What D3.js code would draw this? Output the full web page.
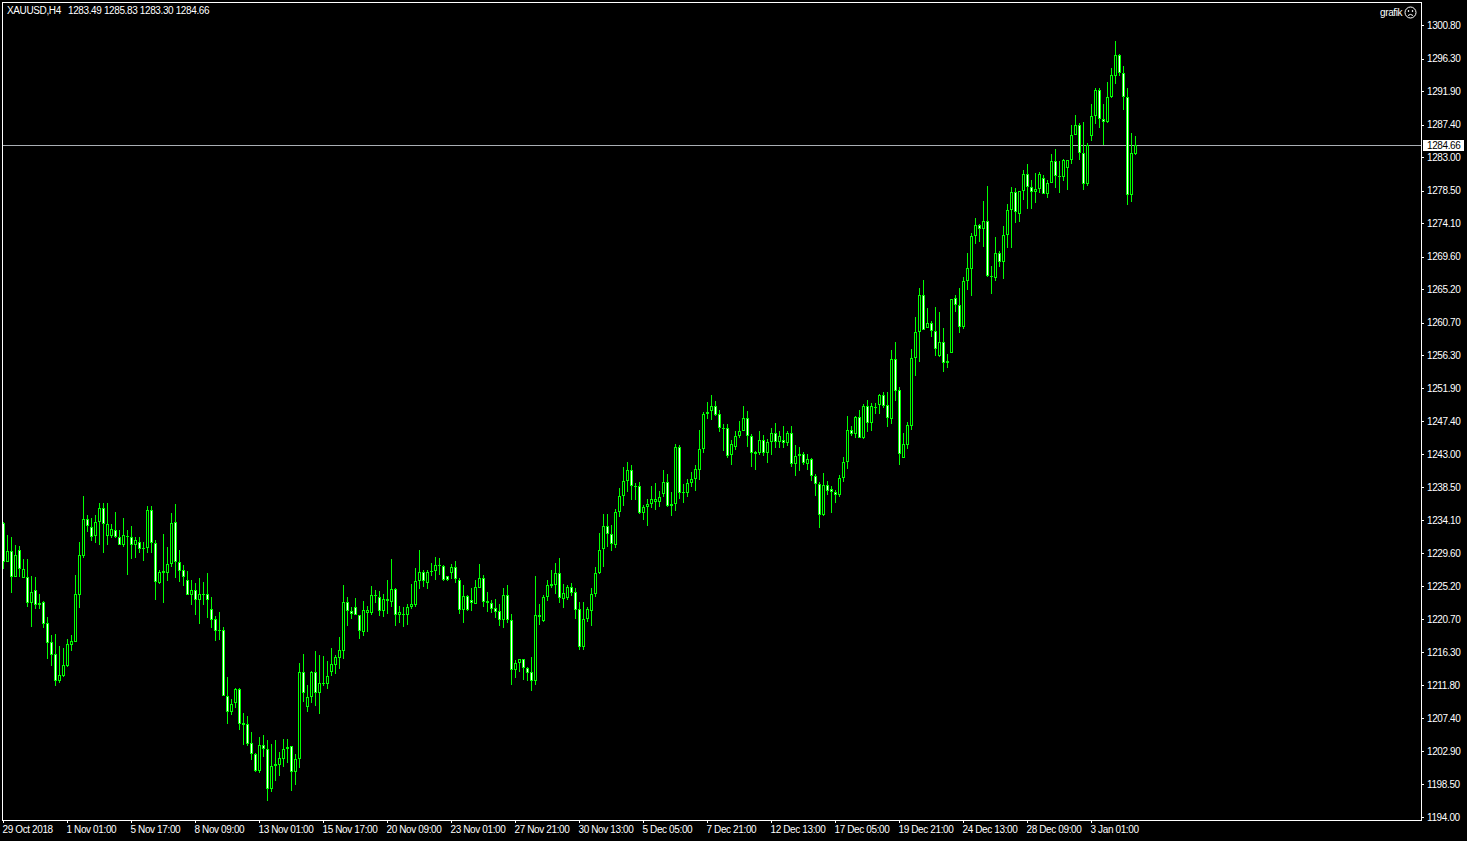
<!DOCTYPE html>
<html>
<head>
<meta charset="utf-8">
<title>XAUUSD,H4</title>
<script src="https://cdn.jsdelivr.net/npm/d3@7"></script>
<style>
  html, body { margin: 0; padding: 0; background: #000; overflow: hidden; }
  svg { display: block; }
  text { font-family: "Liberation Sans", Arial, sans-serif; font-size: 10px; fill: #fff; letter-spacing: -0.38px; }
  .axis .domain { display: none; }
  .axis line { stroke: #fff; shape-rendering: crispEdges; }
  .axis text { fill: #fff; font-size: 10px; }
</style>
</head>
<body>
<svg id="chart" width="1467" height="841"></svg>
<script>
var highs = [
  1233.80,1232.10,1231.87,1230.75,1230.61,1228.85,1228.85,1226.56,1226.38,1224.13,
  1223.18,1221.02,1218.60,1218.73,1217.11,1216.84,1218.06,1218.60,1226.70,1231.15,
  1237.36,1234.80,1234.39,1234.80,1236.37,1236.37,1236.37,1233.53,1235.15,1232.72,
  1234.39,1232.72,1233.31,1231.78,1231.78,1231.10,1236.01,1236.01,1231.42,1227.32,
  1232.18,1230.47,1235.02,1236.28,1230.07,1228.00,1227.24,1226.02,1225.57,1226.29,
  1225.70,1226.92,1223.68,1221.16,1221.70,1219.67,1212.93,1209.95,1211.40,1211.40,
  1208.07,1207.62,1205.55,1202.71,1204.87,1205.10,1204.42,1203.88,1204.42,1202.85,
  1204.51,1204.51,1203.56,1202.53,1214.81,1216.03,1211.84,1213.69,1216.39,1215.90,
  1215.76,1215.08,1216.84,1215.90,1218.28,1225.35,1223.73,1222.42,1223.59,1221.25,
  1223.19,1222.51,1225.21,1224.67,1224.53,1224.13,1226.02,1228.85,1224.94,1222.51,
  1222.38,1222.73,1225.48,1227.64,1230.10,1227.37,1227.37,1228.32,1229.13,1228.99,
  1228.05,1226.52,1228.18,1228.59,1226.29,1225.35,1223.95,1224.90,1226.02,1228.14,
  1226.65,1224.40,1223.28,1223.41,1222.83,1224.90,1225.35,1221.43,1215.22,1215.31,
  1215.31,1214.32,1215.63,1226.56,1222.78,1223.95,1226.02,1227.37,1228.32,1228.99,
  1225.44,1225.30,1225.57,1224.90,1223.00,1223.00,1222.33,1224.90,1227.78,1232.32,
  1234.93,1234.93,1233.40,1235.56,1238.39,1241.23,1241.95,1241.55,1239.07,1239.25,
  1236.10,1236.91,1238.66,1239.12,1237.99,1240.87,1240.33,1237.81,1244.33,1244.15,
  1238.97,1239.65,1240.55,1241.54,1246.26,1248.70,1250.04,1250.99,1250.18,1248.97,
  1247.07,1247.07,1244.92,1246.13,1247.48,1249.50,1248.83,1245.73,1243.34,1246.13,
  1245.59,1245.00,1246.53,1247.21,1246.13,1246.80,1246.13,1246.80,1244.19,1243.93,
  1243.25,1242.98,1242.44,1240.28,1239.25,1240.46,1239.38,1238.66,1238.17,1240.19,
  1242.58,1248.16,1246.76,1248.16,1248.97,1249.73,1250.32,1249.91,1249.91,1251.08,
  1251.40,1251.40,1257.05,1258.13,1252.06,1245.85,1247.28,1257.19,1261.51,1265.42,
  1266.50,1262.72,1260.97,1262.86,1262.18,1260.02,1256.51,1263.89,1264.48,1265.42,
  1266.91,1270.14,1272.80,1274.87,1274.06,1277.16,1279.19,1268.39,1272.31,1270.42,
  1273.79,1276.76,1279.01,1278.92,1278.47,1281.35,1282.12,1280.00,1280.90,1281.04,
  1280.63,1280.00,1283.51,1284.19,1282.57,1282.79,1282.66,1287.43,1288.78,1287.70,
  1287.83,1284.99,1290.26,1292.38,1292.38,1290.26,1293.10,1295.12,1298.63,1297.01,
  1295.39,1292.29,1286.34,1285.83
];

var lows = [
  1227.50,1228.49,1224.31,1226.47,1226.47,1226.34,1222.42,1219.72,1222.15,1222.15,
  1219.58,1215.40,1214.46,1211.76,1212.16,1212.97,1214.32,1216.48,1217.70,1222.29,
  1229.03,1232.50,1231.20,1231.06,1230.75,1229.71,1230.75,1231.65,1231.73,1230.75,
  1230.52,1226.74,1228.81,1228.95,1229.71,1228.63,1229.62,1229.71,1223.32,1225.48,
  1222.96,1225.93,1227.69,1226.34,1225.75,1225.25,1224.00,1222.65,1221.30,1220.13,
  1222.65,1220.85,1219.54,1217.83,1217.92,1210.41,1206.63,1207.80,1208.79,1205.82,
  1203.79,1203.66,1201.77,1200.15,1200.01,1202.17,1196.23,1197.45,1198.93,1199.60,
  1200.82,1201.36,1197.58,1198.39,1200.68,1209.60,1208.25,1209.46,1209.01,1207.98,
  1211.75,1211.35,1213.11,1213.29,1214.01,1215.40,1219.86,1220.80,1221.25,1218.01,
  1218.50,1219.05,1221.34,1222.87,1221.16,1221.07,1221.47,1222.42,1219.86,1220.26,
  1219.72,1219.99,1222.15,1222.42,1224.80,1225.03,1224.85,1226.52,1225.98,1226.65,
  1225.88,1225.88,1226.11,1225.66,1221.48,1220.26,1221.79,1221.88,1222.82,1224.99,
  1222.42,1221.70,1221.61,1220.94,1219.85,1219.58,1220.26,1211.89,1212.84,1213.64,
  1212.57,1212.43,1211.08,1211.89,1219.99,1220.40,1223.23,1224.99,1224.17,1222.96,
  1222.28,1223.36,1223.90,1220.80,1216.62,1216.62,1220.31,1219.85,1223.77,1226.88,
  1227.82,1230.52,1229.85,1230.34,1234.52,1236.00,1237.81,1236.73,1236.73,1234.93,
  1234.03,1233.22,1235.70,1235.47,1235.88,1237.17,1235.87,1234.70,1235.33,1236.95,
  1236.41,1237.13,1238.57,1237.94,1239.51,1243.16,1247.75,1247.61,1248.11,1246.00,
  1243.43,1242.48,1241.54,1243.57,1245.14,1246.04,1243.97,1241.27,1240.87,1242.80,
  1242.67,1241.81,1242.89,1243.79,1243.84,1243.79,1244.11,1241.27,1240.05,1240.73,
  1241.54,1240.87,1239.38,1237.35,1232.95,1234.66,1237.49,1235.06,1236.41,1237.22,
  1239.25,1241.00,1245.41,1245.10,1245.10,1245.00,1245.90,1246.13,1248.43,1248.43,
  1249.19,1246.67,1247.06,1250.21,1241.53,1242.52,1243.73,1246.25,1253.58,1255.34,
  1259.66,1259.93,1258.71,1256.15,1256.10,1254.00,1254.62,1256.56,1262.09,1259.26,
  1259.80,1265.06,1264.25,1271.27,1271.63,1270.95,1266.82,1264.61,1266.28,1268.16,
  1266.64,1270.73,1270.73,1274.11,1274.24,1277.21,1275.99,1275.99,1276.80,1278.16,
  1278.00,1277.48,1279.50,1278.83,1278.16,1279.87,1278.65,1282.07,1286.03,1282.61,
  1278.65,1279.10,1285.18,1287.56,1287.02,1284.68,1287.61,1290.98,1292.83,1293.95,
  1289.45,1276.63,1277.03,1283.30
];

var opens = [
  1233.67,1228.49,1229.89,1226.47,1230.02,1226.34,1226.38,1222.87,1224.63,1222.87,
  1223.00,1220.17,1217.60,1215.98,1212.43,1213.10,1214.45,1217.29,1217.70,1224.04,
  1229.30,1234.21,1233.13,1232.00,1233.80,1235.70,1232.00,1232.00,1232.72,1231.78,
  1230.79,1231.96,1231.78,1230.79,1231.10,1230.29,1230.38,1235.42,1230.97,1225.66,
  1226.92,1226.92,1228.14,1233.80,1228.41,1227.33,1225.98,1224.04,1224.63,1223.36,
  1224.09,1224.09,1222.06,1220.71,1219.22,1219.22,1210.40,1208.25,1209.46,1211.26,
  1206.67,1206.54,1203.97,1202.58,1200.28,1203.70,1203.16,1197.85,1200.95,1201.09,
  1201.90,1203.16,1203.56,1200.15,1201.81,1213.55,1208.83,1210.18,1213.55,1210.81,
  1212.03,1212.03,1213.64,1214.59,1215.54,1216.48,1223.00,1221.79,1222.33,1221.25,
  1219.05,1221.61,1221.61,1223.95,1223.68,1221.88,1223.14,1223.09,1224.76,1221.25,
  1221.39,1221.25,1222.33,1222.69,1225.84,1227.06,1225.57,1227.19,1227.19,1228.05,
  1227.87,1226.52,1226.92,1227.73,1225.97,1222.02,1223.82,1223.28,1222.82,1224.99,
  1226.25,1223.14,1222.87,1222.28,1221.79,1220.67,1223.95,1220.58,1213.92,1214.86,
  1215.31,1214.10,1213.55,1212.43,1221.25,1220.53,1223.68,1225.26,1225.39,1226.92,
  1223.50,1223.64,1225.03,1224.35,1222.06,1217.02,1220.71,1221.88,1224.09,1226.92,
  1230.12,1233.27,1232.18,1230.66,1235.16,1237.31,1239.30,1240.82,1238.66,1238.66,
  1235.02,1235.83,1236.24,1236.51,1236.51,1237.62,1239.20,1236.23,1236.19,1243.93,
  1237.85,1237.67,1239.02,1239.56,1240.87,1243.65,1248.38,1248.74,1249.46,1248.38,
  1246.53,1246.49,1242.80,1243.88,1245.41,1246.09,1247.84,1245.41,1243.21,1243.07,
  1244.87,1243.07,1244.60,1245.82,1244.55,1244.87,1244.42,1245.82,1241.59,1242.71,
  1242.98,1241.59,1242.31,1240.01,1238.93,1234.75,1238.80,1238.25,1237.85,1237.53,
  1239.74,1241.90,1246.22,1245.68,1247.97,1245.19,1249.46,1247.12,1249.33,1249.55,
  1250.95,1249.60,1247.78,1255.79,1251.60,1242.52,1244.27,1246.84,1255.88,1259.39,
  1264.43,1259.93,1260.65,1259.57,1256.28,1258.08,1255.21,1256.56,1264.03,1263.08,
  1260.07,1266.28,1267.90,1272.35,1273.88,1273.34,1274.42,1267.00,1266.68,1270.10,
  1268.84,1272.49,1275.86,1278.34,1275.32,1278.43,1280.77,1279.01,1278.29,1278.70,
  1280.23,1278.02,1279.50,1282.52,1280.50,1280.32,1281.53,1282.61,1286.03,1287.38,
  1283.60,1279.37,1285.85,1288.55,1292.10,1288.19,1287.74,1291.12,1293.95,1296.83,
  1294.40,1291.16,1277.93,1283.49
];

var closes = [
  1228.49,1229.89,1226.47,1229.35,1227.42,1227.46,1222.87,1224.36,1222.69,1222.69,
  1220.13,1217.56,1215.94,1212.43,1213.15,1214.50,1217.34,1217.74,1224.09,1229.35,
  1234.21,1233.22,1231.87,1233.80,1235.70,1233.49,1233.53,1232.86,1231.78,1230.79,
  1232.05,1231.74,1230.79,1231.38,1230.25,1230.25,1235.42,1230.97,1225.70,1227.06,
  1227.15,1228.14,1233.67,1228.41,1227.28,1226.38,1224.04,1224.63,1223.36,1224.09,
  1224.04,1223.36,1220.67,1219.18,1219.18,1210.41,1208.25,1209.24,1211.26,1206.63,
  1206.49,1203.93,1202.58,1200.28,1203.70,1203.16,1197.85,1200.86,1201.13,1201.95,
  1203.16,1203.43,1200.15,1201.81,1213.55,1210.81,1210.18,1213.55,1210.81,1212.07,
  1212.07,1213.02,1214.64,1215.58,1216.53,1223.00,1221.79,1221.39,1221.25,1219.09,
  1221.92,1221.92,1223.95,1223.91,1221.88,1223.41,1223.41,1224.76,1221.25,1221.66,
  1221.25,1222.33,1222.73,1225.84,1227.06,1225.84,1227.06,1227.06,1228.00,1227.87,
  1225.97,1225.97,1227.73,1226.11,1222.02,1223.82,1221.93,1222.87,1225.03,1226.25,
  1223.10,1222.87,1222.15,1221.75,1220.67,1223.95,1220.67,1213.92,1214.77,1215.31,
  1214.18,1213.51,1212.43,1221.25,1220.98,1223.68,1225.30,1225.44,1226.92,1223.55,
  1224.22,1225.03,1224.31,1222.02,1217.02,1220.71,1222.06,1224.09,1226.92,1230.03,
  1233.27,1232.14,1230.92,1235.16,1237.31,1239.34,1240.82,1238.66,1238.62,1235.02,
  1235.83,1236.24,1236.91,1236.91,1237.18,1239.20,1236.00,1236.05,1243.93,1237.67,
  1237.67,1239.07,1239.61,1240.96,1243.65,1248.38,1248.65,1249.46,1248.25,1246.49,
  1246.49,1242.76,1244.33,1245.41,1246.09,1247.84,1245.41,1243.07,1242.98,1244.87,
  1243.07,1244.60,1245.82,1244.60,1245.41,1244.42,1245.82,1241.59,1242.71,1242.98,
  1241.85,1242.31,1239.97,1238.89,1234.75,1238.80,1238.07,1237.85,1237.53,1239.74,
  1241.90,1246.22,1245.68,1247.97,1245.19,1249.46,1247.12,1249.46,1249.28,1250.95,
  1249.51,1247.80,1255.79,1251.56,1243.05,1244.32,1246.88,1255.93,1259.44,1264.43,
  1259.66,1260.65,1259.53,1257.10,1258.08,1255.21,1255.52,1263.89,1263.03,1260.07,
  1266.32,1268.08,1272.40,1273.88,1273.34,1274.42,1266.95,1266.82,1270.10,1268.84,
  1272.53,1275.91,1278.34,1275.59,1278.47,1280.77,1278.97,1278.29,1278.74,1280.77,
  1278.02,1279.55,1282.52,1280.45,1280.32,1282.66,1282.66,1286.03,1287.38,1283.56,
  1279.37,1284.68,1288.60,1292.10,1288.19,1287.74,1291.16,1294.13,1296.83,1294.40,
  1291.12,1277.93,1283.60,1284.66
];

var priceTicks = [
  1300.80,1296.30,1291.90,1287.40,1283.00,1278.50,1274.10,1269.60,1265.20,
  1260.70,1256.30,1251.90,1247.40,1243.00,1238.50,1234.10,1229.60,1225.20,
  1220.70,1216.30,1211.80,1207.40,1202.90,1198.50,1194.00
];

var timeLabels = [
  "29 Oct 2018","1 Nov 01:00","5 Nov 17:00","8 Nov 09:00","13 Nov 01:00","15 Nov 17:00",
  "20 Nov 09:00","23 Nov 01:00","27 Nov 21:00","30 Nov 13:00","5 Dec 05:00","7 Dec 21:00",
  "12 Dec 13:00","17 Dec 05:00","19 Dec 21:00","24 Dec 13:00","28 Dec 09:00","3 Jan 01:00"
];
var barsPerLabel = 16;

var symbolText = "XAUUSD,H4";
var lastQuote = "1283.49 1285.83 1283.30 1284.66";
var bidPrice = 1284.66;

var green = "#00ff00";

var svg = d3.select("#chart");
var frame = {left: 2, top: 2, right: 1421, bottom: 820};

var xScale = d3.scaleLinear().domain([0, opens.length - 1]).range([3, 1135]);
var yScale = d3.scaleLinear().domain([1194, 1300.8]).range([817.3, 25.4]);

function row(price) {
  return Math.round(yScale(price));
}

function renderBidLine() {
  var by = Math.floor(yScale(bidPrice)) + 0.5;
  svg.append("line")
    .attr("x1", frame.left)
    .attr("x2", frame.right)
    .attr("y1", by)
    .attr("y2", by)
    .attr("stroke", "#a9aeb3")
    .attr("shape-rendering", "crispEdges");
}

function renderCandles() {
  var candles = svg.append("g")
    .attr("shape-rendering", "crispEdges")
    .selectAll("g")
    .data(opens)
    .enter()
    .append("g");

  // wick
  candles.append("rect")
    .attr("x", function(d, i) { return xScale(i); })
    .attr("y", function(d, i) { return row(highs[i]); })
    .attr("width", 1)
    .attr("height", function(d, i) { return Math.max(1, row(lows[i]) - row(highs[i])); })
    .attr("fill", green);

  // body outline
  candles.append("rect")
    .attr("x", function(d, i) { return xScale(i) - 1; })
    .attr("y", function(d, i) { return row(Math.max(d, closes[i])); })
    .attr("width", 3)
    .attr("height", function(d, i) { return Math.max(1, row(Math.min(d, closes[i])) - row(Math.max(d, closes[i]))); })
    .attr("fill", green);

  // body fill, black for up bars and white for down bars
  candles.append("rect")
    .attr("x", function(d, i) { return xScale(i); })
    .attr("y", function(d, i) { return row(Math.max(d, closes[i])) + 1; })
    .attr("width", 1)
    .attr("height", function(d, i) { return Math.max(0, row(Math.min(d, closes[i])) - row(Math.max(d, closes[i])) - 2); })
    .attr("fill", function(d, i) { return closes[i] >= d ? "#000" : "#fff"; });
}

function renderAxes() {
  var yAxis = d3.axisRight(yScale)
    .tickValues(priceTicks)
    .tickSize(3)
    .tickPadding(3)
    .tickFormat(function(d) { return d.toFixed(2); });

  svg.append("g")
    .attr("class", "axis")
    .attr("transform", "translate(" + frame.right + ",0)")
    .call(yAxis);

  var xAxis = d3.axisBottom(xScale)
    .tickValues(timeLabels.map(function(d, i) { return i * barsPerLabel; }))
    .tickSize(3)
    .tickFormat(function(d, i) { return timeLabels[i]; });

  svg.append("g")
    .attr("class", "axis")
    .attr("transform", "translate(0," + frame.bottom + ")")
    .call(xAxis)
    .selectAll("text")
    .attr("text-anchor", "start")
    .attr("x", -1)
    .attr("y", 6);
}

function renderFrame() {
  svg.append("rect")
    .attr("x", frame.left + 0.5)
    .attr("y", frame.top + 0.5)
    .attr("width", frame.right - frame.left)
    .attr("height", frame.bottom - frame.top)
    .attr("fill", "none")
    .attr("stroke", "#fff")
    .attr("shape-rendering", "crispEdges");
}

function renderBidTag() {
  var by = Math.floor(yScale(bidPrice));
  svg.append("rect")
    .attr("x", 1423)
    .attr("y", by - 5)
    .attr("width", 41)
    .attr("height", 11)
    .attr("fill", "#fff");
  svg.append("text")
    .attr("x", 1427)
    .attr("y", by + 4)
    .style("fill", "#000")
    .text(bidPrice.toFixed(2));
}

function renderHeader() {
  svg.append("text")
    .attr("x", 7)
    .attr("y", 14)
    .text(symbolText);
  svg.append("text")
    .attr("x", 68)
    .attr("y", 14)
    .text(lastQuote);

  svg.append("text")
    .attr("x", 1380)
    .attr("y", 16)
    .text("grafik");

  var face = svg.append("g")
    .attr("transform", "translate(1410.5,12.5)")
    .attr("fill", "none")
    .attr("stroke", "#fff");
  face.append("circle").attr("r", 5.5);
  face.append("path").attr("d", "M-2.5,3 Q0,0.8 2.5,3");
  face.append("circle").attr("cx", -2).attr("cy", -1.5).attr("r", 0.5).attr("fill", "#fff");
  face.append("circle").attr("cx", 2).attr("cy", -1.5).attr("r", 0.5).attr("fill", "#fff");
}

renderBidLine();
renderCandles();
renderAxes();
renderFrame();
renderBidTag();
renderHeader();
</script>
</body>
</html>
